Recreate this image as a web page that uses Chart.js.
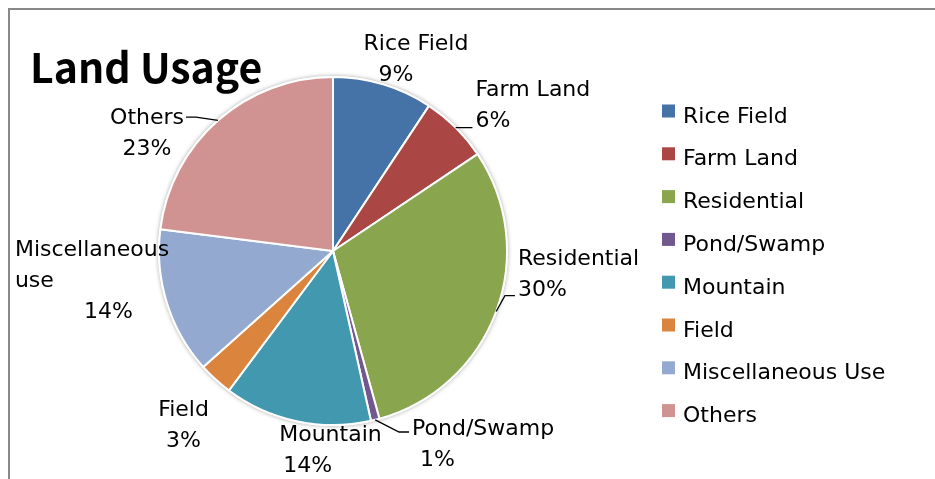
<!DOCTYPE html>
<html>
<head>
<meta charset="utf-8">
<script src="https://cdn.jsdelivr.net/npm/chart.js@4.4.0/dist/chart.umd.min.js"></script>
<style>
  html, body { margin: 0; background: #fff; overflow: hidden; }
  #wrap { width: 935px; height: 479px; }
</style>
</head>
<body>
<div id="wrap"><canvas id="landChart" width="935" height="479"></canvas></div>
<script>
const chartTitle = 'Land Usage';
const categories = ['Rice Field', 'Farm Land', 'Residential', 'Pond/Swamp', 'Mountain', 'Field', 'Miscellaneous Use', 'Others'];
const shares = [9.3, 6.3, 30.1, 0.8, 13.7, 3.2, 13.6, 23.0];
const labelNames = [['Rice Field'], ['Farm Land'], ['Residential'], ['Pond/Swamp'], ['Mountain'], ['Field'], ['Miscellaneous', 'use'], ['Others']];
const sliceColors = ['#4572A7', '#AA4643', '#89A54E', '#71588F', '#4198AF', '#DB843D', '#93A9CF', '#D19392'];

// data label placement: angle nudge from slice middle (deg), distance in radii
const labelLayout = [
  { shift: 3.9, k: 1.19, align: 'center', nudge: [10, -10] },
  { shift: -0.9, k: 1.18, align: 'left', leader: { line: 1, dy: 9 } },
  { shift: -13.8, k: 1.07, align: 'left', leader: { line: 1, dy: 8 } },
  { shift: -8.9, k: 1.195, align: 'left', nudge: [-2, 6], leader: { line: 0, dy: 5 } },
  { shift: 2.9, k: 1.175, align: 'left', nudge: [-1, 3] },
  { shift: -1.5, k: 1.31, align: 'center' },
  { shift: 12.3, k: 1.835, align: 'left', nudge: [0, 0, 69] },
  { shift: -15.9, k: 1.27, align: 'center', leader: { line: 0, dy: 1, side: 'right' } }
];

const labelFont = '22px "DejaVu Sans"';
const capH = 16;
const lineH = 31;

const decor = {
  id: 'decor',
  beforeDraw(chart) {
    const ctx = chart.ctx;
    ctx.save();
    ctx.strokeStyle = '#888';
    ctx.lineWidth = 2;
    ctx.beginPath();
    ctx.moveTo(9, 479);
    ctx.lineTo(9, 9);
    ctx.lineTo(940, 9);
    ctx.stroke();
    ctx.fillStyle = '#000';
    ctx.font = 'bold 41px "Noto Sans CJK JP"';
    ctx.textBaseline = 'alphabetic';
    ctx.fillText(chartTitle, 30, 83);
    ctx.restore();
  },
  beforeDatasetsDraw(chart) {
    const arc = chart.getDatasetMeta(0).data[0];
    const ctx = chart.ctx;
    ctx.save();
    ctx.shadowColor = 'rgba(0,0,0,0.35)';
    ctx.shadowBlur = 4;
    ctx.fillStyle = '#fff';
    ctx.beginPath();
    ctx.arc(arc.x, arc.y, arc.outerRadius + 1, 0, Math.PI * 2);
    ctx.fill();
    ctx.restore();
  },
  afterDatasetsDraw(chart) {
    const ctx = chart.ctx;
    const meta = chart.getDatasetMeta(0);
    const total = shares.reduce((a, b) => a + b, 0);
    ctx.save();
    ctx.font = labelFont;
    ctx.fillStyle = '#000';
    ctx.strokeStyle = '#000';
    ctx.lineWidth = 1.3;
    ctx.textBaseline = 'alphabetic';

    meta.data.forEach((arc, i) => {
      const lay = labelLayout[i];
      const mid = (arc.startAngle + arc.endAngle) / 2;
      const a = mid + lay.shift * Math.PI / 180;
      const d = arc.outerRadius * lay.k;
      const ax = arc.x + Math.cos(a) * d;
      const ay = arc.y + Math.sin(a) * d;
      const lines = labelNames[i].concat([Math.round(shares[i] / total * 100) + '%']);
      const n = lines.length;
      ctx.textAlign = lay.align;
      const pos = lines.map((t, j) => {
        const x = ax + ((lay.nudge && lay.nudge[j]) || 0);
        const y = ay + (j - (n - 1) / 2) * lineH;
        ctx.fillText(t, x, y + capH / 2);
        return { x, y, w: ctx.measureText(t).width };
      });

      if (lay.leader) {
        const p = pos[lay.leader.line];
        const ex = arc.x + Math.cos(mid) * arc.outerRadius;
        const ey = arc.y + Math.sin(mid) * arc.outerRadius;
        let tx, hx;
        if (lay.leader.side === 'right') {
          const right = lay.align === 'center' ? p.x + p.w / 2 : p.x + p.w;
          tx = right + 2;
          hx = tx + 10;
        } else {
          tx = p.x - 3;
          hx = tx - 10;
        }
        const ty = p.y + lay.leader.dy;
        ctx.beginPath();
        ctx.moveTo(ex, ey);
        ctx.lineTo(hx, ty);
        ctx.lineTo(tx, ty);
        ctx.stroke();
      }
    });

    // legend
    ctx.textAlign = 'left';
    categories.forEach((c, i) => {
      const cy = 114.5 + i * 42.8;
      ctx.fillStyle = sliceColors[i];
      ctx.fillRect(662, cy - 10, 13, 13);
      ctx.fillStyle = '#000';
      ctx.fillText(c, 683, cy + capH / 2);
    });
    ctx.restore();
  }
};

new Chart(document.getElementById('landChart'), {
  type: 'pie',
  data: {
    labels: categories,
    datasets: [{
      data: shares,
      backgroundColor: sliceColors,
      borderColor: '#fff',
      borderWidth: 2
    }]
  },
  options: {
    responsive: false,
    animation: false,
    radius: 174,
    layout: { padding: { left: 150, right: 419, top: 70, bottom: 47 } },
    plugins: {
      legend: { display: false },
      tooltip: { enabled: false }
    }
  },
  plugins: [decor]
});
</script>
</body>
</html>
